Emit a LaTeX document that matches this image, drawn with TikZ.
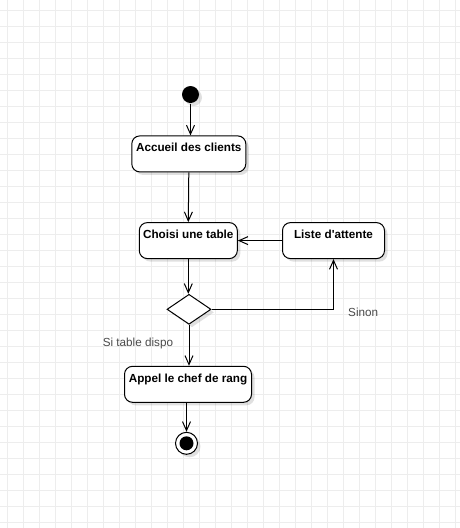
\documentclass[tikz,border=0pt]{standalone}
\usepackage{fontspec}
\setmainfont{Liberation Sans}
\usetikzlibrary{arrows.meta,shapes.geometric,shadows}
\definecolor{gridc}{HTML}{EDEDED}
\definecolor{lblc}{HTML}{4A4A4A}
\begin{document}
\begin{tikzpicture}[x=1pt,y=-1pt, line width=1pt,
  shad/.style={drop shadow={shadow xshift=3pt, shadow yshift=-3pt, fill=black, opacity=0.12}},
  actbox/.style={draw, rounded corners=8pt, fill=white, inner sep=0pt, minimum height=36pt, shad},
  acttext/.style={anchor=base, font=\bfseries\fontsize{11.7}{14}\selectfont, inner sep=0pt},
  lbl/.style={anchor=base west, font=\fontsize{11.7}{14}\selectfont, text=lblc, inner sep=0pt},
  flow/.style={-{Straight Barb[length=9pt,width=8pt]}}
]
\useasboundingbox (0,0) rectangle (460,528);
\fill[white] (0,0) rectangle (460,528);
\foreach \i in {0,...,28} \draw[gridc] (7.3+16*\i,0) -- (7.3+16*\i,528);
\foreach \j in {0,...,32} \draw[gridc] (0,10+16*\j) -- (460,10+16*\j);

\node[circle, fill=black, minimum size=17pt, inner sep=0pt, shad] (start) at (190.5,94.5) {};
\node[actbox, minimum width=114pt] (acc) at (188.8,153.9) {};
\node[actbox, minimum width=98pt] (cho) at (188.3,240.6) {};
\node[actbox, minimum width=102pt] (lis) at (333.5,240.6) {};
\node[diamond, draw, fill=white, minimum width=44pt, minimum height=30pt, inner sep=0pt, shad] (dia) at (189,309.3) {};
\node[actbox, minimum width=127pt] (app) at (188,384.3) {};
\node[circle, draw, fill=white, minimum size=22pt, inner sep=0pt, shad] (end) at (186.5,443.3) {};
\node[circle, fill=black, minimum size=14pt, inner sep=0pt] (endin) at (end.center) {};

\node[acttext] (acct) at ([yshift=-16.3pt]acc.north) {Accueil des clients};
\node[acttext] (chot) at ([yshift=-16.3pt]cho.north) {Choisi une table};
\node[acttext] (list) at ([yshift=-16.3pt]lis.north) {Liste d\textquotesingle attente};
\node[acttext] (appt) at ([yshift=-16.3pt]app.north) {Appel le chef de rang};

\node[lbl] (sinon) at (347.7,316.7) {Sinon};
\node[lbl] (sidispo) at (102.3,346.5) {Si table dispo};

\draw[flow] (start) -- (start |- acc.north);
\draw[flow] (acc.south) -- (cho.north);
\draw[flow] (lis.west) -- (cho.east);
\draw[flow] (cho.south) -- (cho.south |- dia.north);
\draw[flow] (dia.east) -| (lis.south);
\draw[flow] (dia.south) -- (dia.south |- app.north);
\draw[flow] (end |- app.south) -- (end.north);
\end{tikzpicture}
\end{document}
